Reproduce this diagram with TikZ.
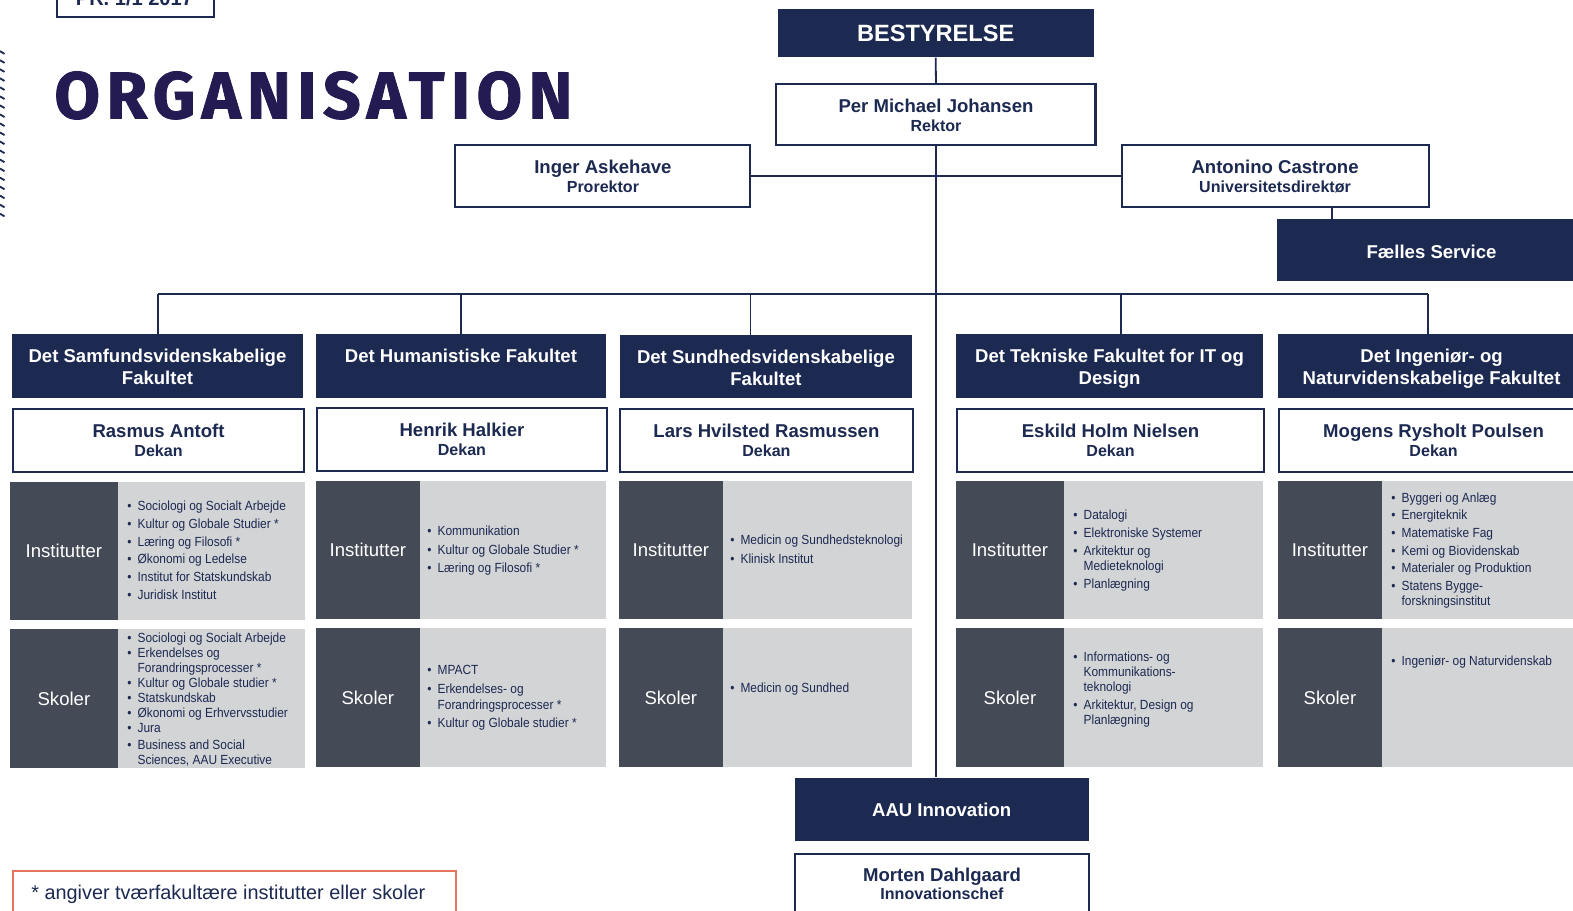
\documentclass[tikz,border=0pt]{standalone}
\usepackage{fontspec}
\setmainfont{Liberation Sans}
\newfontfamily\narrowfont{Liberation Sans}[FakeStretch=0.9]
\newfontfamily\orgfont{Fira Sans}[LetterSpace=9.5, BoldFeatures={FakeBold=1.2}]
\definecolor{navy}{HTML}{1C2951}
\definecolor{orgcol}{HTML}{231B52}
\definecolor{dgrey}{HTML}{454B56}
\definecolor{lgrey}{HTML}{D3D4D6}
\definecolor{notecol}{HTML}{E5735E}
\newcommand\itembul{\llap{\textbullet\hspace{6pt}}}
\tikzset{
  conn/.style={draw=navy, line width=1.8pt},
  darkbox/.style={fill=navy, draw=none, inner sep=0, anchor=north west},
  whitebox/.style={fill=white, draw=navy, line width=2pt, inner sep=0, anchor=north west},
  labbox/.style={fill=dgrey, draw=none, inner sep=0, anchor=north west},
  listbox/.style={fill=lgrey, draw=none, inner sep=0, anchor=north west},
  headtxt/.style={text=white, font=\bfseries\fontsize{18.5}{22}\selectfont, inner sep=0, anchor=mid, yshift=-5pt},
  bigtxt/.style={text=white, font=\bfseries\fontsize{23.5}{28}\selectfont, inner sep=0, anchor=mid, yshift=-6pt},
  nametxt/.style={text=navy, font=\bfseries\fontsize{18.5}{22}\selectfont, inner sep=0, anchor=mid, yshift=-5pt},
  roletxt/.style={text=navy, font=\bfseries\fontsize{16}{19}\selectfont, inner sep=0, anchor=mid, yshift=-3.5pt},
  labtxt/.style={text=white, font=\fontsize{18.5}{22}\selectfont, inner sep=0, anchor=mid, yshift=-5pt},
  listtxt/.style={text=navy, font=\narrowfont\fontsize{13.2}{15}\selectfont, inner sep=0, anchor=mid west, yshift=-2pt},
  dashmark/.style={draw=navy, line width=1.8pt},
}
\newcommand\personbox[7]{%
  \node[whitebox, minimum width=#4pt, minimum height=#5pt] (#1) at (#2,#3) {};
  \node[nametxt] (#1n) at ([yshift=-21pt]#1.north) {#6};
  \node[roletxt] (#1r) at ([yshift=-42pt]#1.north) {#7};}
\newcommand\unitrow[6]{% prefix, xa, xb, xc, ytop, label
  \node[labbox, minimum width=#3pt-#2pt, minimum height=138pt] (#1d) at (#2,#5) {};
  \node[listbox, minimum width=#4pt-#3pt, minimum height=138pt] (#1l) at (#3,#5) {};
  \node[labtxt] (#1t) at ([yshift=1pt]#1d.center) {#6};}
\newcommand\listat[3]{%
  \foreach \ylin/\tlin in {#3} {\node[listtxt] (#1\ylin) at (#2,\ylin) {\tlin};}}
\begin{document}
\begin{tikzpicture}[x=1pt,y=-1pt]
\useasboundingbox (0,0) rectangle (1568,908);
\fill[white] (0,0) rectangle (1568,908);

% top-left tag and title
\node[draw=navy, line width=2pt, minimum width=156pt, minimum height=50pt, inner sep=0, anchor=south west] (tag) at (56,18) {};
\node[text=navy, font=\bfseries\fontsize{20}{24}\selectfont, inner sep=0, anchor=base] (tagt) at (134,5) {PR. 1/1 2017};
\node[text=orgcol, font=\orgfont\bfseries\fontsize{66}{70}\selectfont, inner sep=0, anchor=base west] (title) at (54,118) {ORGANISATION};
\foreach \y in {51,60,...,213} {\draw[dashmark] (0,\y) -- (4.5,\y+2.7);}

% leadership
\node[darkbox, minimum width=315pt, minimum height=48pt] (bestyr) at (775,9) {};
\node[bigtxt] (bestyrt) at (bestyr.center) {BESTYRELSE};
\personbox{per}{773}{83}{318}{61}{Per Michael Johansen}{Rektor}
\personbox{inger}{453}{144}{294}{61}{Inger Askehave}{Prorektor}
\personbox{castrone}{1117}{144}{306}{61}{Antonino Castrone}{Universitetsdirektør}
\node[darkbox, minimum width=308pt, minimum height=62pt] (faelles) at (1273,218) {};
\node[headtxt] (faellest) at (1427,250) {Fælles Service};

% faculties
\node[darkbox, minimum width=290pt, minimum height=64pt] (fac1) at (12,333) {};
\node[headtxt] (fac1a) at (157,354) {Det Samfundsvidenskabelige};
\node[headtxt] (fac1b) at (157,376) {Fakultet};
\node[darkbox, minimum width=289pt, minimum height=64pt] (fac2) at (315,333) {};
\node[headtxt] (fac2a) at (459.5,354) {Det Humanistiske Fakultet};
\node[darkbox, minimum width=291pt, minimum height=63pt] (fac3) at (618,334) {};
\node[headtxt] (fac3a) at (763.5,355) {Det Sundhedsvidenskabelige};
\node[headtxt] (fac3b) at (763.5,377) {Fakultet};
\node[darkbox, minimum width=306pt, minimum height=64pt] (fac4) at (953,333) {};
\node[headtxt] (fac4a) at (1106,354) {Det Tekniske Fakultet for IT og};
\node[headtxt] (fac4b) at (1106,376) {Design};
\node[darkbox, minimum width=308pt, minimum height=64pt] (fac5) at (1274,333) {};
\node[headtxt] (fac5a) at (1427,354) {Det Ingeniør- og};
\node[headtxt] (fac5b) at (1427,376) {Naturvidenskabelige Fakultet};

% deans
\personbox{d1}{12}{407}{290}{62}{Rasmus Antoft}{Dekan}
\personbox{d2}{315}{406}{289}{62}{Henrik Halkier}{Dekan}
\personbox{d3}{617}{407}{292}{62}{Lars Hvilsted Rasmussen}{Dekan}
\personbox{d4}{953}{407}{306}{62}{Eskild Holm Nielsen}{Dekan}
\personbox{d5}{1274}{407}{308}{62}{Mogens Rysholt Poulsen}{Dekan}

% institutter / skoler
\unitrow{c1i}{10}{117}{304}{480}{Institutter}
\unitrow{c1s}{10}{117}{304}{627}{Skoler}
\unitrow{c2i}{315}{418}{604}{479}{Institutter}
\unitrow{c2s}{315}{418}{604}{626}{Skoler}
\unitrow{c3i}{617}{720}{909}{479}{Institutter}
\unitrow{c3s}{617}{720}{909}{626}{Skoler}
\unitrow{c4i}{953}{1060}{1259}{479}{Institutter}
\unitrow{c4s}{953}{1060}{1259}{626}{Skoler}
\unitrow{c5i}{1274}{1377}{1582}{479}{Institutter}
\unitrow{c5s}{1274}{1377}{1582}{626}{Skoler}

\listat{l1i}{137}{504/\itembul Sociologi og Socialt Arbejde, 522/\itembul Kultur og Globale Studier *, 540/\itembul Læring og Filosofi *, 557/\itembul Økonomi og Ledelse, 575/\itembul Institut for Statskundskab, 593/\itembul Juridisk Institut}
\listat{l1s}{137}{636/\itembul Sociologi og Socialt Arbejde, 651/\itembul Erkendelses og, 666/Forandringsprocesser *, 681/\itembul Kultur og Globale studier *, 696/\itembul Statskundskab, 711/\itembul Økonomi og Erhvervsstudier, 726/\itembul Jura, 742/\itembul Business and Social, {757/Sciences, AAU Executive}}
\listat{l2i}{436}{529/\itembul Kommunikation, 548/\itembul Kultur og Globale Studier *, 566/\itembul Læring og Filosofi *}
\listat{l2s}{436}{668/\itembul MPACT, 687/\itembul Erkendelses- og, 703/Forandringsprocesser *, 721/\itembul Kultur og Globale studier *}
\listat{l3i}{738}{538/\itembul Medicin og Sundhedsteknologi, 557/\itembul Klinisk Institut}
\listat{l3s}{738}{686/\itembul Medicin og Sundhed}
\listat{l4i}{1080}{513/\itembul Datalogi, 531/\itembul Elektroniske Systemer, 549/\itembul Arkitektur og, 564/Medieteknologi, 582/\itembul Planlægning}
\listat{l4s}{1080}{655/\itembul Informations- og, 670/Kommunikations-, 685/teknologi, {703/\itembul Arkitektur, Design og}, 718/Planlægning}
\listat{l5i}{1397}{496/\itembul Byggeri og Anlæg, 513/\itembul Energiteknik, 531/\itembul Matematiske Fag, 549/\itembul Kemi og Biovidenskab, 566/\itembul Materialer og Produktion, 584/\itembul Statens Bygge-, 599/forskningsinstitut}
\listat{l5s}{1397}{659/\itembul Ingeniør- og Naturvidenskab}

% innovation
\node[darkbox, minimum width=293pt, minimum height=63pt] (aau) at (792,775) {};
\node[headtxt] (aaut) at (aau.center) {AAU Innovation};
\node[whitebox, minimum width=294pt, minimum height=80pt] (morten) at (791,850) {};
\node[nametxt] (mortenn) at ([yshift=-21pt]morten.north) {Morten Dahlgaard};
\node[roletxt] (mortenr) at ([yshift=-40pt]morten.north) {Innovationschef};

% note
\node[draw=notecol, line width=1.8pt, minimum width=442pt, minimum height=70pt, inner sep=0, anchor=north west] (note) at (12,867) {};
\node[text=navy, font=\fontsize{19.8}{23}\selectfont, inner sep=0, anchor=mid west, yshift=-4pt] (notet) at (31,890) {* angiver tværfakultære institutter eller skoler};

% connectors
\draw[conn] (bestyr.south) -- (per.north);
\draw[conn] (per.south) -- (per.south |- aau.north);
\draw[conn] (inger.east) -- (castrone.west);
\draw[conn] ([xshift=57pt]castrone.south) -- ([xshift=57pt]castrone.south |- faelles.north);
\coordinate (busL) at (157,293);
\coordinate (busR) at (1423,293);
\draw[conn] (busL) -- (busR);
\draw[conn] (fac1.north) -- (fac1.north |- busL);
\draw[conn] (fac2.north) -- (fac2.north |- busL);
\draw[conn] ([xshift=-15.5pt]fac3.north) -- ([xshift=-15.5pt]fac3.north |- busL);
\draw[conn] ([xshift=11pt]fac4.north) -- ([xshift=11pt]fac4.north |- busL);
\draw[conn] ([xshift=-5pt]fac5.north) -- ([xshift=-5pt]fac5.north |- busL);
\end{tikzpicture}
\end{document}
